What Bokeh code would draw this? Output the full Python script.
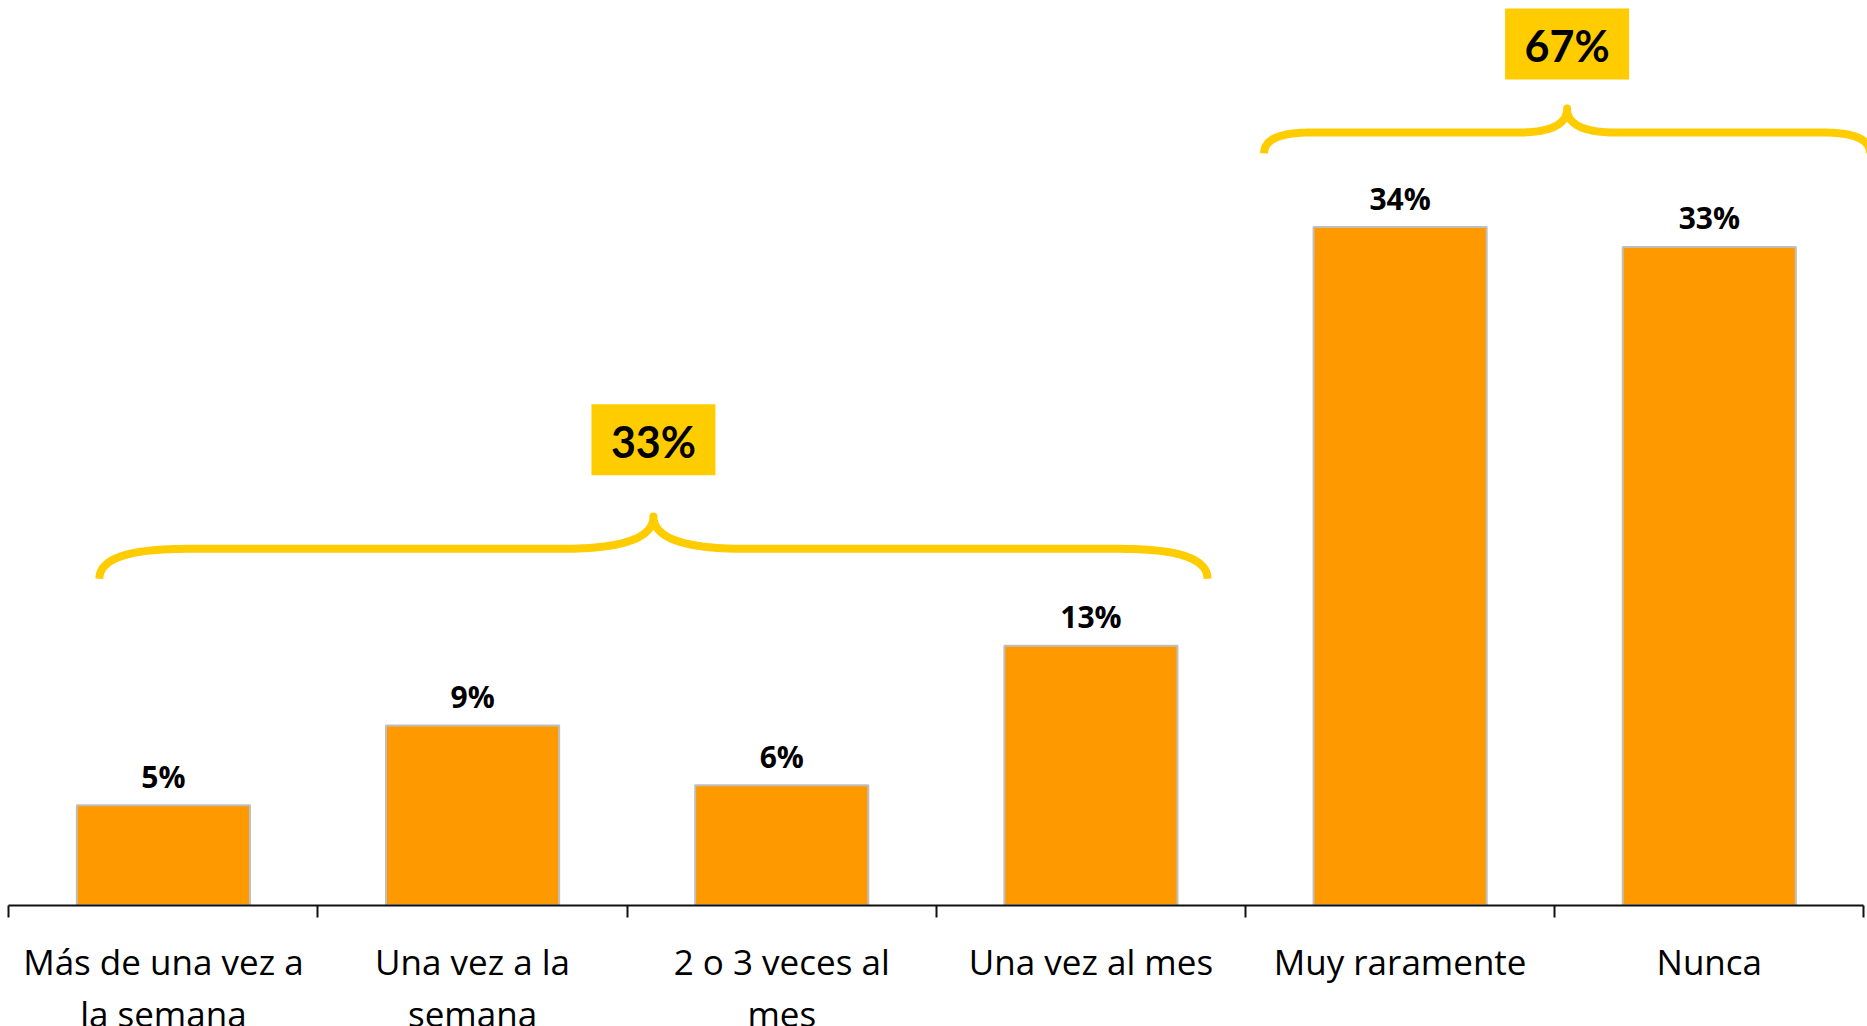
import numpy as np
from bokeh.plotting import figure
from bokeh.models import Range1d, FixedTicker
from bokeh.core.properties import value
from bokeh.embed import file_html
from bokeh.resources import INLINE

# ---------------- data ----------------
categories = [
    "Más de una vez a\nla semana",
    "Una vez a la\nsemana",
    "2 o 3 veces al\nmes",
    "Una vez al mes",
    "Muy raramente",
    "Nunca",
]
values = [5, 9, 6, 13, 34, 33]
group_members = [[0, 1, 2, 3], [4, 5]]

# ---------------- layout / style ----------------
W, H = 1867, 1026
AXIS_FROM_TOP = 904.5        # px from the figure top to the category axis
AXIS_LEFT_PX, AXIS_RIGHT_PX = 8.3, 1863.4
PX_PER_UNIT = 19.94
BAR_COLOR = "#FF9900"
BAR_EDGE = "#BFBFBF"
ACCENT = "#FFCC00"
LABEL_GAP_PX = 29

# brace annotation layout: x0, x1 (data x), end/line/peak heights, curve widths
brace_x0 = [-0.207, 3.560]
brace_x1 = [3.377, 5.520]
brace_y_end = [16.36, 37.69]
brace_y_line = [17.86, 38.74]
brace_y_peak = [19.48, 39.94]
brace_dx_end = [0.28, 0.15]
brace_dx_peak = [0.30, 0.16]
box_y = [23.33, 43.18]

n = len(values)
xs = np.arange(n)
bounds = np.arange(n + 1) - 0.5
px_per_cat = (AXIS_RIGHT_PX - AXIS_LEFT_PX) / n
x_start = -0.5 - AXIS_LEFT_PX / px_per_cat
x_end = n - 0.5 + (W - AXIS_RIGHT_PX) / px_per_cat
y_top = AXIS_FROM_TOP / PX_PER_UNIT
y_bottom = -(H - AXIS_FROM_TOP) / PX_PER_UNIT

p = figure(width=W, height=H, x_range=Range1d(x_start, x_end), y_range=Range1d(y_bottom, y_top),
           output_backend="svg", toolbar_location=None, y_axis_location=None,
           min_border_left=0, min_border_right=0, min_border_top=0, min_border_bottom=0)
p.grid.visible = False
p.outline_line_color = None
p.background_fill_color = "white"
p.border_fill_color = "white"

ax = p.xaxis[0]
ax.fixed_location = 0
ax.bounds = (float(bounds[0]), float(bounds[-1]))
ax.ticker = FixedTicker(ticks=list(xs), minor_ticks=list(bounds))
ax.major_label_overrides = {int(i): c for i, c in zip(xs, categories)}
ax.major_label_text_font = "Open Sans"
ax.major_label_text_font_size = "35px"
ax.major_label_text_color = "black"
ax.major_label_text_line_height = 1.1
ax.major_label_standoff = 21
ax.axis_line_color = "#111111"
ax.axis_line_width = 2
ax.major_tick_line_color = None
ax.major_tick_out = 0
ax.major_tick_in = 0
ax.minor_tick_line_color = "#111111"
ax.minor_tick_line_width = 2
ax.minor_tick_out = 12
ax.minor_tick_in = 0

# bars
p.vbar(x=xs, top=values, width=0.56, fill_color=BAR_COLOR, line_color=BAR_EDGE, line_width=2)

# value labels
p.text(x=xs, y=[v + LABEL_GAP_PX / PX_PER_UNIT for v in values], text=[f"{v}%" for v in values],
       text_align="center", text_baseline="alphabetic", text_font=value("Open Sans"),
       text_font_style="bold", text_font_size="30px", text_color="black")

# braces
def quad(p0, c, p1, k=30):
    t = np.linspace(0, 1, k)[:, None]
    return (1 - t) ** 2 * np.array(p0) + 2 * (1 - t) * t * np.array(c) + t ** 2 * np.array(p1)

for g in range(len(group_members)):
    x0, x1 = brace_x0[g], brace_x1[g]
    xm = (x0 + x1) / 2
    ye, yl, yp = brace_y_end[g], brace_y_line[g], brace_y_peak[g]
    de, dp = brace_dx_end[g], brace_dx_peak[g]
    seg = [
        quad((x0, ye), (x0, yl), (x0 + de, yl)),
        quad((xm - dp, yl), (xm, yl), (xm, yp)),
        quad((xm, yp), (xm, yl), (xm + dp, yl)),
        quad((x1 - de, yl), (x1, yl), (x1, ye)),
    ]
    pts = np.vstack(seg)
    p.line(pts[:, 0], pts[:, 1], line_color=ACCENT, line_width=8, line_join="round", line_cap="butt")

# group total boxes
gx = [(brace_x0[g] + brace_x1[g]) / 2 for g in range(len(group_members))]
gtext = [f"{sum(values[i] for i in m)}%" for m in group_members]
p.rect(x=gx, y=box_y, width=124, height=71, width_units="screen", height_units="screen",
       fill_color=ACCENT, line_color=None)
p.text(x=gx, y=[b - 1.5 / PX_PER_UNIT for b in box_y], text=gtext, text_align="center",
       text_baseline="middle", text_font=value("Lato"), text_font_style="bold",
       text_font_size="43px", text_color="black")

open("out.html", "w").write(file_html(p, INLINE))
